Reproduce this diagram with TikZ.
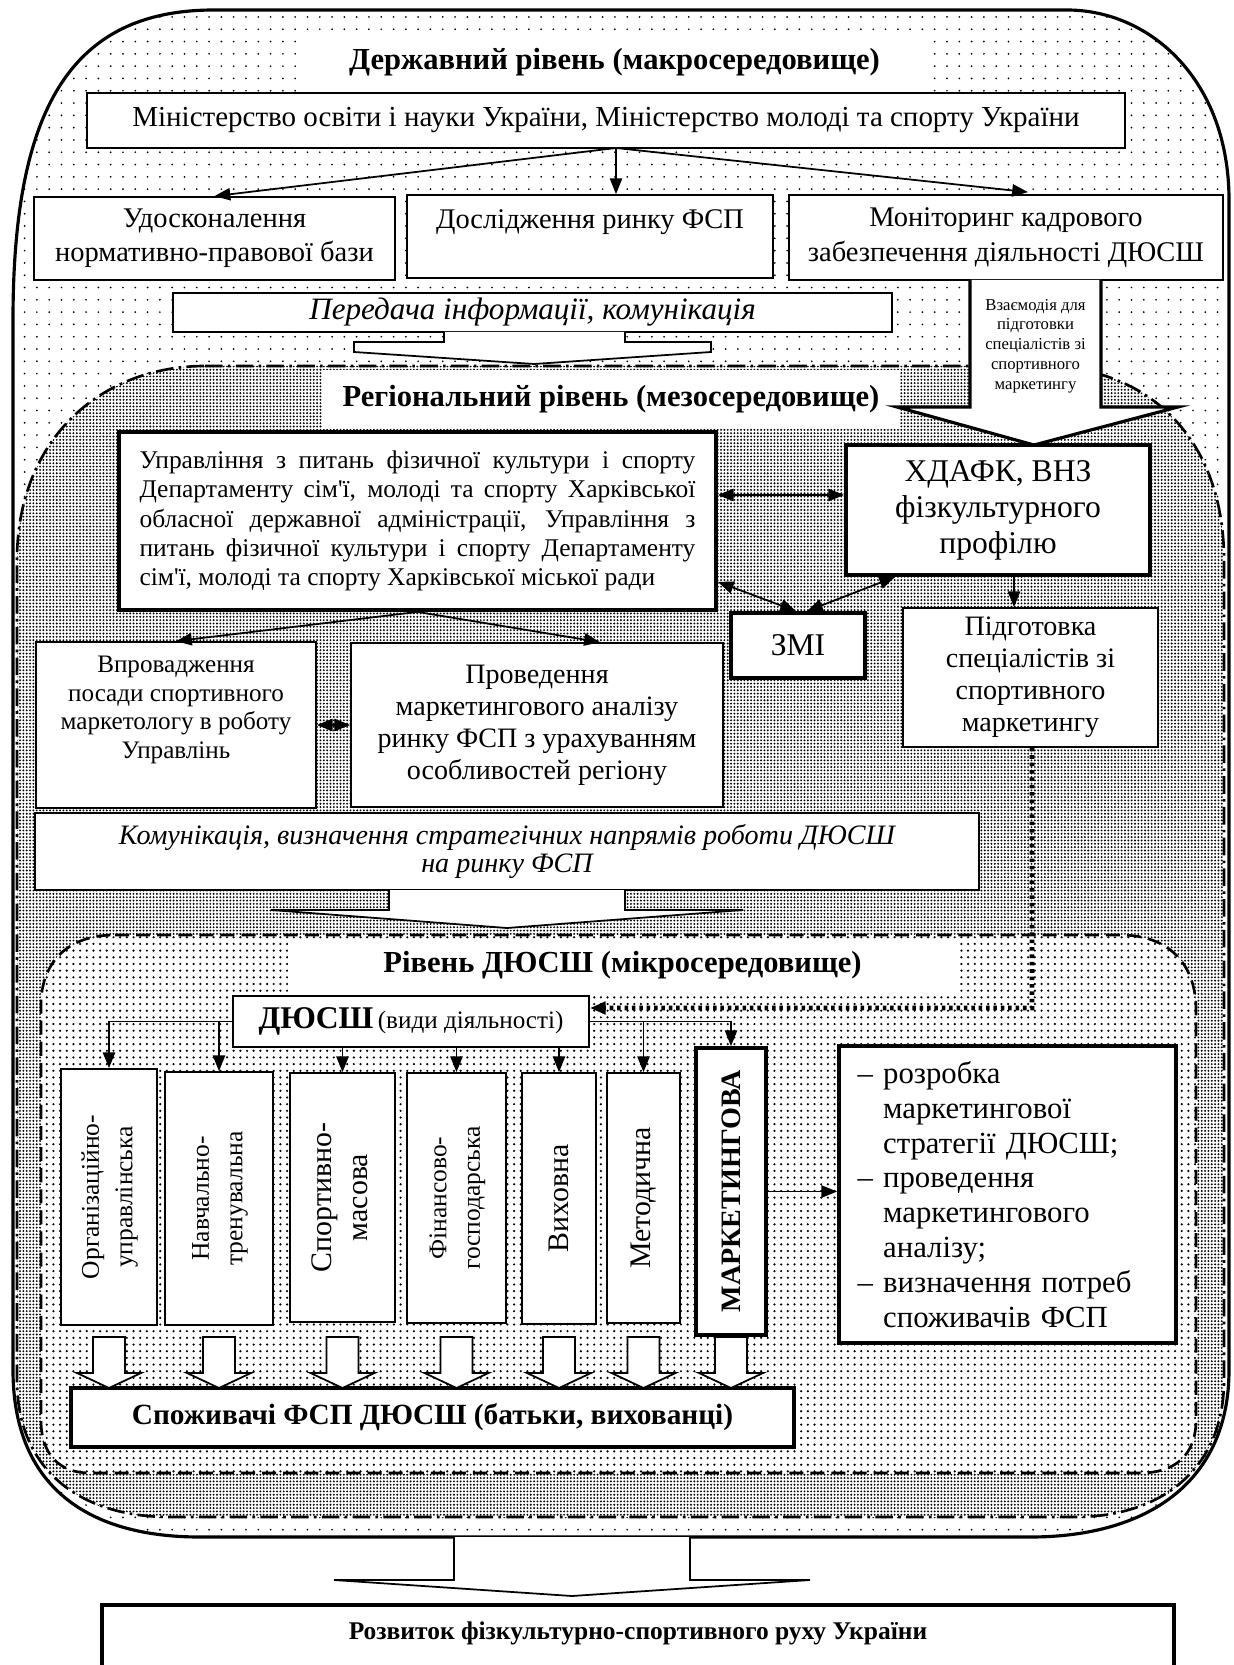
\documentclass[tikz,border=0pt]{standalone}
\usepackage{fontspec}
\usepackage{graphicx}
\setmainfont{Liberation Serif}
\usetikzlibrary{arrows.meta,patterns.meta,calc}

% font sizes
\newcommand\fTitle{\fontsize{17.4}{20}\selectfont\bfseries}
\newcommand\fSpoz{\fontsize{16.7}{19}\selectfont\bfseries}
\newcommand\fBody{\fontsize{16.5}{19}\selectfont}
\newcommand\fRow{\fontsize{16.2}{19.5}\selectfont}
\newcommand\fItal{\fontsize{17.7}{16}\selectfont\itshape}
\newcommand\fItalB{\fontsize{16}{16}\selectfont\itshape}
\newcommand\fTiny{\fontsize{9.5}{11.3}\selectfont}
\newcommand\fUpr{\fontsize{14.5}{16.6}\selectfont}
\newcommand\fBig{\fontsize{18}{20.5}\selectfont}
\newcommand\fMid{\fontsize{16}{18.2}\selectfont}
\newcommand\fSmall{\fontsize{14.3}{16.3}\selectfont}
\newcommand\fVert{\fontsize{14.5}{19}\selectfont}
\newcommand\fVertB{\fontsize{17}{20}\selectfont}
\newcommand\fList{\fontsize{17.5}{19.8}\selectfont}
\newcommand\fRozv{\fontsize{14.5}{16}\selectfont\bfseries}
\newcommand\apos{\textquotesingle}

\tikzset{
  box/.style={draw, fill=white, line width=1pt, align=center, inner sep=2pt},
  heavybox/.style={box, line width=2.2pt},
  titlebox/.style={fill=white, inner sep=0pt, font=\fTitle},
  arr/.style={-{Triangle[length=9pt,width=7pt]}, line width=1pt},
  darr/.style={{Triangle[length=9pt,width=7pt]}-{Triangle[length=9pt,width=7pt]}, line width=1pt},
  dotarr/.style={-{Triangle[length=9pt,width=7pt]}, line width=2.6pt, dash pattern=on 2pt off 2.2pt},
  hollow/.style={draw, fill=white, line width=1pt, line join=miter},
  sparse/.style={pattern={Dots[distance=7pt, radius=0.55pt]}},
  dense/.style={pattern={Dots[distance=1.9pt, radius=0.6pt]}},
  medium/.style={pattern={Dots[distance=3.8pt, radius=0.7pt]}},
  regline/.style={line width=1.5pt, dash pattern=on 10pt off 3pt on 1.5pt off 3pt},
  schline/.style={line width=1.5pt, dash pattern=on 8pt off 4pt},
}

\begin{document}
\begin{tikzpicture}[x=0.02cm, y=-0.02cm]
\useasboundingbox (0,0) rectangle (1233,1665);

% state level
\draw[line width=1.8pt, preaction={sparse}]
  (214,10) -- (1067,10) .. controls (1150,10) and (1229,80) .. (1229,200)
  -- (1229,1370) .. controls (1229,1480) and (1150,1537) .. (1030,1537)
  -- (200,1537) .. controls (80,1537) and (13,1480) .. (13,1370)
  -- (13,320) .. controls (13,110) and (70,10) .. (214,10) -- cycle;
% regional level
\draw[regline, preaction={fill=white}, preaction={dense}]
  (205,366) -- (1040,366) .. controls (1150,366) and (1224,440) .. (1224,560)
  -- (1224,1380) .. controls (1224,1470) and (1160,1517) .. (1075,1517)
  -- (170,1517) .. controls (80,1517) and (17,1470) .. (17,1380)
  -- (17,560) .. controls (17,440) and (100,366) .. (205,366) -- cycle;
% school level
\draw[schline, preaction={fill=white}, preaction={medium}]
  (115,935) -- (1120,935) .. controls (1170,935) and (1196,965) .. (1196,1010)
  -- (1196,1420) .. controls (1196,1455) and (1175,1473) .. (1140,1473)
  -- (90,1473) .. controls (60,1473) and (41,1455) .. (41,1420)
  -- (41,1005) .. controls (41,965) and (65,935) .. (115,935) -- cycle;

\node[titlebox, minimum width=12.42cm, minimum height=1.2cm] (tstate) at (614.5,62) {Державний рівень (макросередовище)};
\node[titlebox, minimum width=11.56cm, minimum height=1.16cm] (treg) at (611,399) {Регіональний рівень (мезосередовище)};
\node[titlebox, minimum width=13.38cm, minimum height=1.06cm] (tschool) at (622.5,965) {Рівень ДЮСШ (мікросередовище)};

% state boxes
\node[box, font=\fBody, minimum width=20.76cm, minimum height=1.1cm] (min) at (606,120.5) {Міністерство освіти і науки України, Міністерство молоді та спорту України};
\node[box, font=\fRow, minimum width=7.22cm, minimum height=1.66cm] (udos) at (214.5,238.5) {Удосконалення\\нормативно-правової бази};
\node[box, font=\fRow, minimum width=7.32cm, minimum height=1.66cm] (dosl) at (590,236.5) {Дослідження ринку ФСП\\\mbox{}};
\node[box, font=\fRow, minimum width=8.68cm, minimum height=1.7cm] (monit) at (1006,237.5) {Моніторинг кадрового\\забезпечення діяльності ДЮСШ};

\coordinate (minout) at (616,148);
\draw[arr] (minout) -- (udos.north);
\draw[arr] (minout) -- (minout |- dosl.north);
\draw[arr] (minout) -- ($(monit.north)+(22,-2)$);

% block arrows between levels
\node[box, font=\fItal, minimum width=14.38cm, minimum height=0.78cm] (pered) at (532.5,312.5) {Передача інформації, комунікація};
\draw[hollow] (444,332) -- (444,342) -- (354,342) -- (354,352) -- (534,364) -- (711,352) -- (711,342) -- (625,342) -- (625,332);
\draw[hollow, line width=1.8pt] (970,280) -- (970,407) -- (897,407) -- (1034,445) -- (1178,407) -- (1101,407) -- (1101,280);
\node[font=\fTiny, align=center] (vzaem) at (1035.5,346) {Взаємодія для\\підготовки\\спеціалістів зі\\спортивного\\маркетингу};

% regional boxes
\node[heavybox, font=\fUpr, text width=11.12cm, align=justify, inner xsep=0.41cm, minimum height=3.56cm] (upr) at (417.5,521) {Управління з питань фізичної культури і спорту\linebreak Департаменту сім\apos ї, молоді та спорту Харківської\linebreak обласної державної адміністрації, Управління з\linebreak питань фізичної культури і спорту Департаменту\linebreak сім\apos ї, молоді та спорту Харківської міської ради};
\node[heavybox, font=\fBig, minimum width=6.08cm, minimum height=2.6cm] (hdafk) at (998,510) {ХДАФК, ВНЗ\\фізкультурного\\профілю};
\node[heavybox, font=\fBig, minimum width=2.68cm, minimum height=1.3cm] (zmi) at (798,645.5) {ЗМІ};
\node[box, font=\fMid, minimum width=5.1cm, minimum height=2.78cm] (pidg) at (1030.5,677.5) {Підготовка\\спеціалістів зі\\спортивного\\маркетингу};
\node[box, font=\fSmall, minimum width=5.6cm, minimum height=3.32cm] (vpr) at (176,725) {Впровадження\\посади спортивного\\маркетологу в роботу\\Управлінь\\[4pt]};
\node[box, font=\fMid, minimum width=7.44cm, minimum height=3.28cm] (prov) at (537,725) {Проведення\\маркетингового аналізу\\ринку ФСП з урахуванням\\особливостей регіону};

\draw[darr] ($(upr.east)+(0,-26)$) -- ($(hdafk.west)+(0,-15)$);
\draw[darr] ($(upr.south east)+(0,-30)$) -- ($(zmi.north)+(-2,0)$);
\draw[darr] ($(hdafk.south west)+(51,0)$) -- ($(zmi.north)+(9,0)$);
\draw[arr] ($(hdafk.south)+(16,0)$) -- ($(pidg.north)+(-16.5,0)$);
\draw[arr] (upr.south) -- (vpr.north);
\draw[arr] (upr.south) -- ($(prov.north)+(63,0)$);
\draw[darr] (vpr.east) -- (prov.west);

\node[box, font=\fItalB, minimum width=18.88cm, minimum height=1.54cm] (komun) at (507,851.5) {Комунікація, визначення стратегічних напрямів роботи ДЮСШ\\на ринку ФСП};
\draw[hollow] (389,890) -- (389,910) -- (271,910) -- (507,928) -- (743,910) -- (625,910) -- (625,890);

% school level boxes
\node[box, minimum width=7.12cm, minimum height=1.02cm] (dyussh) at (411,1021.5) {{\fBig\bfseries ДЮСШ} {\fSmall(види діяльності)}};
\node[box, minimum width=1.92cm, minimum height=5.12cm] (v1) at (109,1197) {\rotatebox{90}{\fVert\begin{tabular}{@{}c@{}}Організаційно-\\управлінська\end{tabular}}};
\node[box, minimum width=2.16cm, minimum height=5.06cm] (v2) at (219,1198.5) {\rotatebox{90}{\fVert\begin{tabular}{@{}c@{}}Навчально-\\тренувальна\end{tabular}}};
\node[box, minimum width=2.1cm, minimum height=4.98cm] (v3) at (342.5,1197.5) {\rotatebox{90}{\fVertB\begin{tabular}{@{}c@{}}Спортивно-\\масова\end{tabular}}};
\node[box, minimum width=1.98cm, minimum height=5cm] (v4) at (456.5,1198) {\rotatebox{90}{\fVert\begin{tabular}{@{}c@{}}Фінансово-\\господарська\end{tabular}}};
\node[box, minimum width=1.48cm, minimum height=5.02cm] (v5) at (559,1198.5) {\rotatebox{90}{\fVertB Виховна}};
\node[box, minimum width=1.46cm, minimum height=5cm] (v6) at (643.5,1198) {\rotatebox{90}{\fVertB Методична}};
\node[heavybox, minimum width=1.4cm, minimum height=5.74cm] (v7) at (731,1191.5) {\rotatebox{90}{\fMid\bfseries МАРКЕТИНГОВА}};
\node[heavybox, font=\fList, align=left, text width=6cm, inner xsep=0.37cm, minimum height=5.94cm] (list) at (1007.5,1194.5) {– розробка\\ \hphantom{– }маркетингової\\ \hphantom{– }стратегії ДЮСШ;\\ – проведення\\ \hphantom{– }маркетингового\\ \hphantom{– }аналізу;\\ – визначення потреб\\ \hphantom{– }споживачів ФСП};

\draw[arr] (dyussh.west) -| (v1.north);
\draw[arr] (dyussh.west -| v2.north) -- (v2.north);
\foreach \n in {v3,v4,v5}
  \draw[arr] (dyussh.south -| \n.north) -- (\n.north);
\draw[arr] (dyussh.east) -| (v6.north);
\draw[arr] (dyussh.east -| v6.north) -| (v7.north);
\draw[arr] (v7.east) -- (v7.east -| list.west);

\coordinate (dotc) at (1032,1008);
\draw[dotarr] ($(pidg.south)+(1.5,0)$) -- (dotc) -- (dotc -| dyussh.east);

\node[heavybox, font=\fSpoz, minimum width=14.46cm, minimum height=1.18cm] (spoz) at (432.5,1417.5) {Споживачі ФСП ДЮСШ (батьки, вихованці)};
\foreach \n in {v1,v2,v3,v4,v5,v6,v7}
  \draw[hollow] (\n.south |- 0,1337) ++(-16,0) -- ++(0,36) -- ++(-16,0) -- ++(32,15) -- ++(32,-15) -- ++(-16,0) -- ++(0,-36) -- cycle;

% result
\draw[hollow] (454,1537) -- (454,1580) -- (334,1580) -- (572,1596) -- (810,1580) -- (690,1580) -- (690,1537);
\draw[line width=2.2pt] (102,1700) -- (102,1605) -- (1174,1605) -- (1174,1700);
\node[font=\fRozv] (rozv) at (638,1633) {Розвиток фізкультурно-спортивного руху України};
\end{tikzpicture}
\end{document}
